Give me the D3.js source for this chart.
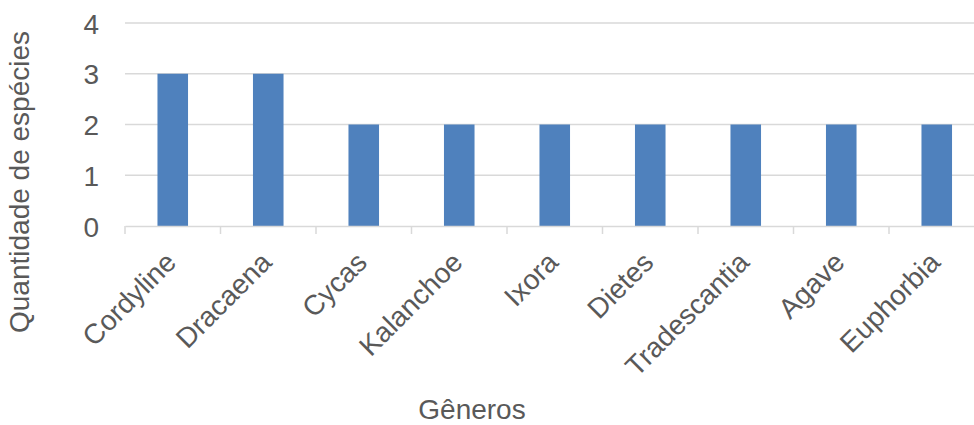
<!DOCTYPE html>
<html>
<head>
<meta charset="utf-8">
<script src="https://cdn.jsdelivr.net/npm/d3@7"></script>
<style>
  html, body { margin: 0; padding: 0; background: #fff; }
  svg { display: block; }
  text { font-family: "Liberation Sans", Arial, sans-serif; fill: #595959; }
</style>
</head>
<body>
<svg id="chart" width="974" height="425"></svg>
<script>
// Number of species per genus
const generos = ["Cordyline", "Dracaena", "Cycas", "Kalanchoe", "Ixora", "Dietes", "Tradescantia", "Agave", "Euphorbia"];
const especies = [3, 3, 2, 2, 2, 2, 2, 2, 2];
const yTicks = [0, 1, 2, 3, 4];

const svg = d3.select("#chart");
const plot = { left: 125, right: 984.5, top: 23, bottom: 226 };

const x = d3.scaleBand()
  .domain(generos)
  .range([plot.left, plot.right])
  .paddingInner(0.68)
  .paddingOuter(0.34);

const y = d3.scaleLinear()
  .domain([0, 4])
  .range([plot.bottom, plot.top]);

// Horizontal gridlines
svg.append("g")
  .selectAll("line")
  .data(yTicks.filter(d => d > 0))
  .join("line")
  .attr("x1", plot.left)
  .attr("x2", plot.right)
  .attr("y1", d => y(d))
  .attr("y2", d => y(d))
  .attr("stroke", "#d9d9d9")
  .attr("stroke-width", 1.5);

// Bars
svg.append("g")
  .selectAll("rect")
  .data(generos)
  .join("rect")
  .attr("x", d => x(d))
  .attr("width", x.bandwidth())
  .attr("y", (d, i) => y(especies[i]))
  .attr("height", (d, i) => y(0) - y(especies[i]))
  .attr("fill", "#4f81bd");

// Y axis labels
const yAxis = svg.append("g")
  .attr("transform", `translate(${plot.left - 26},0)`)
  .call(d3.axisLeft(y).tickValues(yTicks).tickSize(0).tickPadding(0).tickFormat(d3.format("d")));
yAxis.select(".domain").remove();
yAxis.selectAll("text")
  .attr("font-size", 28)
  .attr("font-family", null)
  .attr("fill", null)
  .attr("dy", "0.36em");

// X axis with tick marks at category boundaries
const xAxis = svg.append("g")
  .attr("transform", `translate(0,${plot.bottom})`)
  .call(d3.axisBottom(x).tickSize(0).tickFormat(""));
xAxis.select(".domain").attr("stroke", "#d9d9d9").attr("stroke-width", 1.5);
xAxis.selectAll(".tick").remove();

const bounds = d3.range(generos.length + 1).map(i => plot.left + i * x.step());
xAxis.selectAll("line.bound")
  .data(bounds)
  .join("line")
  .attr("class", "bound")
  .attr("x1", d => d).attr("x2", d => d)
  .attr("y1", 0).attr("y2", 8)
  .attr("stroke", "#d9d9d9")
  .attr("stroke-width", 1.5);

// Rotated category labels, baseline ending just right of each band centre
xAxis.selectAll("text.cat")
  .data(generos)
  .join("text")
  .attr("class", "cat")
  .attr("font-size", 28)
  .attr("text-anchor", "end")
  .attr("transform", d => `translate(${x(d) + x.bandwidth() / 2 + 5},${38}) rotate(-45)`)
  .text(d => d);

// Axis titles
svg.append("text")
  .attr("x", 472)
  .attr("y", 419)
  .attr("text-anchor", "middle")
  .attr("font-size", 28)
  .text("Gêneros");

svg.append("text")
  .attr("transform", "translate(29,182) rotate(-90)")
  .attr("text-anchor", "middle")
  .attr("font-size", 28)
  .text("Quantidade de espécies");
</script>
</body>
</html>
